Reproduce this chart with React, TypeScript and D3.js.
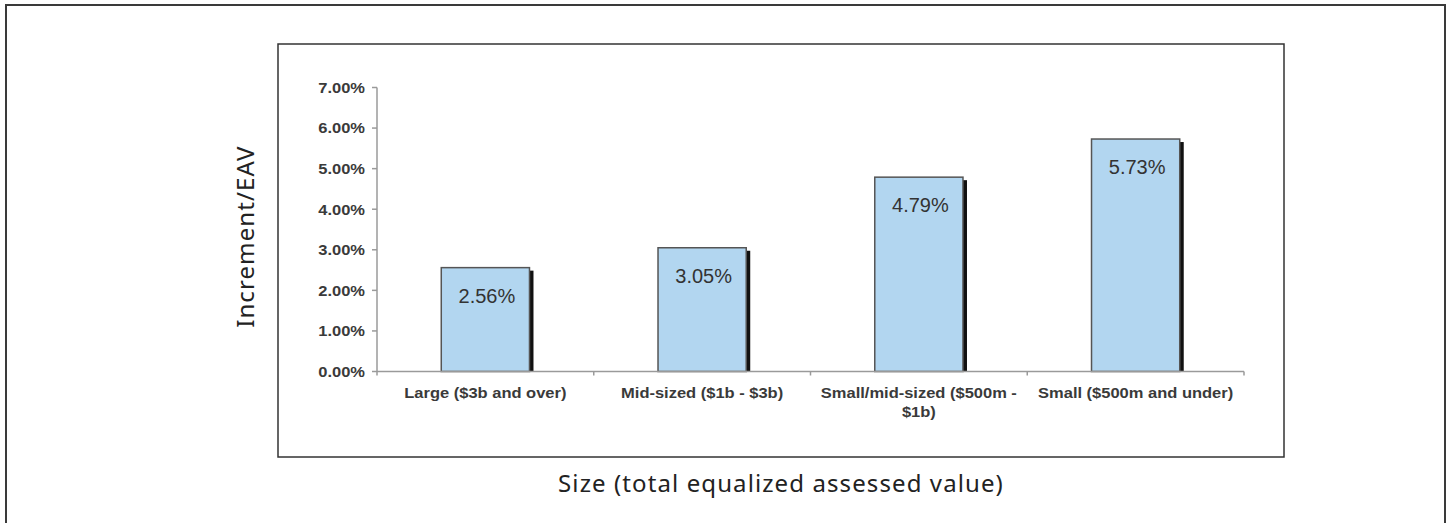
import React from "react";
import * as d3 from "d3";

// Increment as a share of equalized assessed value, by district size
const categories = [
  "Large ($3b and over)",
  "Mid-sized ($1b - $3b)",
  "Small/mid-sized ($500m -\n$1b)",
  "Small ($500m and under)",
];
const values = [2.56, 3.05, 4.79, 5.73];
const yTicks = [0, 1, 2, 3, 4, 5, 6, 7];
const yTitle = "Increment/EAV";
const xTitle = "Size (total equalized assessed value)";

const W = 1449;
const H = 523;

// inner chart frame and plot area
const frame = { x0: 278, y0: 44, x1: 1284, y1: 457 };
const plot = { left: 377, right: 1244, top: 87.5, bottom: 371.5 };

const excelFont = "'Liberation Sans', Arial, sans-serif";
const titleFont = "'Noto Sans', 'Open Sans', sans-serif";

export default function App() {
  const x = d3
    .scaleBand<string>()
    .domain(categories)
    .range([plot.left, plot.right])
    .paddingInner(0.593)
    .paddingOuter(0.2965);
  const step = x.step();
  const y = d3.scaleLinear().domain([0, 7]).range([plot.bottom, plot.top]);
  const fmt = (v: number) => `${v.toFixed(2)}%`;
  const axisColor = "#9a9a9a";
  const boundaries = d3.range(categories.length + 1).map((i) => plot.left + i * step);

  return (
    <svg
      width={W}
      height={H}
      style={{ position: "absolute", left: 0, top: 0, background: "#fff" }}
    >
      {/* outer panel */}
      <path
        d={`M6,${H + 2} V5 H1445 V${H + 2}`}
        fill="none"
        stroke="#3a3a3a"
        strokeWidth={2}
      />
      {/* chart frame */}
      <rect
        x={frame.x0}
        y={frame.y0}
        width={frame.x1 - frame.x0}
        height={frame.y1 - frame.y0}
        fill="#fff"
        stroke="#333"
        strokeWidth={1.5}
      />

      {/* y axis */}
      <line x1={plot.left} x2={plot.left} y1={plot.top} y2={plot.bottom} stroke={axisColor} strokeWidth={1.5} />
      {yTicks.map((t) => (
        <g key={t}>
          <line x1={plot.left - 5} x2={plot.left} y1={y(t)} y2={y(t)} stroke={axisColor} strokeWidth={1.5} />
          <text
            x={365}
            y={y(t)}
            dy="0.36em"
            textAnchor="end"
            fontFamily={excelFont}
            fontWeight="bold"
            fontSize={15}
            fill="#3a3a3a"
            transform={`translate(365,0) scale(1.1,1) translate(-365,0)`}
          >
            {fmt(t)}
          </text>
        </g>
      ))}

      {/* bars with a dark drop shadow on the right */}
      {values.map((v, i) => {
        const bx = x(categories[i]) as number;
        const bw = x.bandwidth();
        const top = y(v);
        return (
          <g key={i}>
            <rect x={bx + 4} y={top + 3} width={bw} height={plot.bottom - top - 3} fill="#111" />
            <rect
              x={bx}
              y={top}
              width={bw}
              height={plot.bottom - top}
              fill="#b2d6f0"
              stroke="#555"
              strokeWidth={1.5}
            />
            <text
              x={bx + bw / 2 + 1.5}
              y={top + 35}
              textAnchor="middle"
              fontFamily={excelFont}
              fontSize={20}
              fill="#333"
            >
              {fmt(v)}
            </text>
          </g>
        );
      })}

      {/* x axis */}
      <line x1={plot.left} x2={plot.right} y1={plot.bottom} y2={plot.bottom} stroke={axisColor} strokeWidth={1.5} />
      {boundaries.map((bx, i) => (
        <line key={i} x1={bx} x2={bx} y1={plot.bottom} y2={plot.bottom + 4} stroke={axisColor} strokeWidth={1.5} />
      ))}
      {categories.map((c, i) => {
        const cx = (x(c) as number) + x.bandwidth() / 2;
        return (
          <text
            key={c}
            textAnchor="middle"
            fontFamily={excelFont}
            fontWeight="bold"
            fontSize={15}
            fill="#3a3a3a"
            transform={`translate(${cx},0) scale(1.1,1) translate(${-cx},0)`}
          >
            {c.split("\n").map((line, k) => (
              <tspan key={k} x={cx} y={398 + k * 19.5}>
                {line}
              </tspan>
            ))}
          </text>
        );
      })}

      {/* axis titles */}
      <text
        transform={`translate(254,236.7) rotate(-90)`}
        textAnchor="middle"
        fontFamily={titleFont}
        fontSize={24}
        letterSpacing={1.1}
        fill="#222"
      >
        {yTitle}
      </text>
      <text
        x={(frame.x0 + frame.x1) / 2}
        y={491.5}
        textAnchor="middle"
        fontFamily={titleFont}
        fontSize={24}
        letterSpacing={1.1}
        fill="#222"
      >
        {xTitle}
      </text>
    </svg>
  );
}
